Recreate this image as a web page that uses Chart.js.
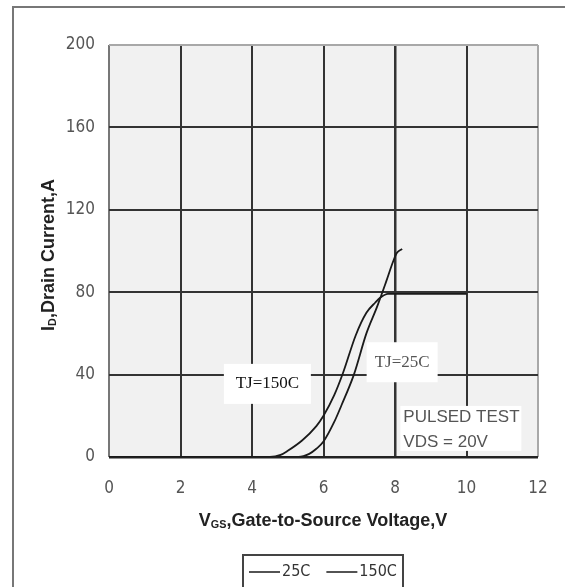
<!DOCTYPE html>
<html>
<head>
<meta charset="utf-8">
<script src="https://cdn.jsdelivr.net/npm/chart.js@4"></script>
<style>
  html, body { margin: 0; padding: 0; background: #fff; }
  #wrap { width: 565px; height: 587px; }
</style>
</head>
<body>
<div id="wrap"><canvas id="chartCanvas" width="565" height="587"></canvas></div>
<script>
// values
const xTicks = [0, 2, 4, 6, 8, 10, 12];
const yTicks = [0, 40, 80, 120, 160, 200];

const seriesLabels = ['25C', '150C'];

const vgs25 = [0, 5.3, 5.6, 5.8, 6.0, 6.3, 6.5, 6.85, 7.2, 7.5, 7.75, 7.95, 8.05, 8.2];
const id25  = [0, 0, 1.5, 4, 7.5, 17, 25, 40, 60, 73, 85, 95, 99, 101];

const vgs150 = [0, 4.5, 4.8, 5.0, 5.4, 5.8, 6.0, 6.3, 6.55, 6.9, 7.2, 7.45, 7.6, 7.8, 10];
const id150  = [0, 0, 1, 3, 8, 15, 20, 30, 41, 59, 70, 75, 77.5, 79.2, 79.2];

const serif = '"Liberation Serif", "Times New Roman", serif';
const notes = [
  { text: 'TJ=150C', x: 4.43, y: 35.5, w: 87, color: '#111' },
  { text: 'TJ=25C', x: 8.2, y: 46, w: 71, color: '#555' }
];
const testNote = ['PULSED TEST', 'VDS = 20V'];

const toPoints = (xs, ys) => xs.map((x, i) => ({ x: x, y: ys[i] }));

const narrow = '"DejaVu Sans Condensed", "Liberation Sans Narrow", "Arial Narrow", sans-serif';
const sans = '"Liberation Sans", Arial, sans-serif';

// draw text made of parts, some of them subscripted, centred at cx, cy
function drawRich(ctx, parts, cx, cy, size) {
  ctx.textBaseline = 'middle';
  ctx.textAlign = 'left';
  let total = 0;
  parts.forEach(p => {
    ctx.font = 'bold ' + (p.sub ? size * 0.6 : size) + 'px ' + sans;
    p.w = ctx.measureText(p.t).width;
    total += p.w;
  });
  let x = cx - total / 2;
  parts.forEach(p => {
    ctx.font = 'bold ' + (p.sub ? size * 0.6 : size) + 'px ' + sans;
    ctx.fillText(p.t, x, cy + (p.sub ? size * 0.25 : 0));
    x += p.w;
  });
}

const decor = {
  id: 'decor',
  beforeDraw(chart) {
    const { ctx, chartArea: a } = chart;
    ctx.save();
    ctx.fillStyle = '#f1f1f1';
    ctx.fillRect(a.left, a.top, a.right - a.left, a.bottom - a.top);
    ctx.restore();
  },
  beforeDatasetsDraw(chart) {
    const { ctx, scales: { x, y } } = chart;
    ctx.save();
    // white label boxes
    ctx.textBaseline = 'middle';
    ctx.textAlign = 'center';
    notes.forEach(n => {
      const px = x.getPixelForValue(n.x), py = y.getPixelForValue(n.y);
      ctx.fillStyle = '#fff';
      ctx.fillRect(px - n.w / 2, py - 20, n.w, 40);
      ctx.fillStyle = n.color;
      ctx.font = '17px ' + serif;
      ctx.fillText(n.text, px, py);
    });
    const bx = x.getPixelForValue(8.15), by = y.getPixelForValue(24.8);
    ctx.fillStyle = '#fff';
    ctx.fillRect(bx, by, 121, 45);
    ctx.fillStyle = '#555';
    ctx.textAlign = 'left';
    ctx.font = '17px ' + sans;
    ctx.fillText(testNote[0], bx + 3, by + 11);
    ctx.fillText(testNote[1], bx + 3, by + 36);
    ctx.restore();
  },
  afterDraw(chart) {
    const { ctx } = chart;
    ctx.save();
    ctx.fillStyle = '#222';
    drawRich(ctx, [{ t: 'V' }, { t: 'GS', sub: true }, { t: ',Gate-to-Source Voltage,V' }], 323, 521, 18);
    ctx.translate(49, 255);
    ctx.rotate(-Math.PI / 2);
    drawRich(ctx, [{ t: 'I' }, { t: 'D', sub: true }, { t: ',Drain Current,A' }], 0, 0, 18);
    ctx.restore();

    // outer frame
    ctx.save();
    ctx.strokeStyle = '#777';
    ctx.lineWidth = 2;
    ctx.strokeRect(13, 7, 600, 640);
    ctx.restore();

    // legend box
    ctx.save();
    ctx.strokeStyle = '#444';
    ctx.lineWidth = 2;
    ctx.strokeRect(243, 555, 160, 50);
    ctx.font = '16px ' + narrow;
    ctx.textBaseline = 'middle';
    ctx.textAlign = 'left';
    ctx.fillStyle = '#333';
    let lx = 249;
    chart.data.datasets.forEach(ds => {
      ctx.strokeStyle = ds.borderColor;
      ctx.lineWidth = 1.5;
      ctx.beginPath();
      ctx.moveTo(lx, 572);
      ctx.lineTo(lx + 31, 572);
      ctx.stroke();
      ctx.fillText(ds.label, lx + 33, 572);
      lx += 33 + ctx.measureText(ds.label).width + 16;
    });
    ctx.restore();
  }
};

const ctx = document.getElementById('chartCanvas');
new Chart(ctx, {
  type: 'line',
  data: {
    datasets: [{
      label: seriesLabels[0],
      data: toPoints(vgs25, id25),
      borderColor: '#1a1a1a',
      borderWidth: 1.8,
      pointRadius: 0,
      cubicInterpolationMode: 'monotone',
      fill: false
    }, {
      label: seriesLabels[1],
      data: toPoints(vgs150, id150),
      borderColor: '#1a1a1a',
      borderWidth: 1.8,
      pointRadius: 0,
      cubicInterpolationMode: 'monotone',
      fill: false
    }]
  },
  plugins: [decor],
  options: {
    responsive: false,
    animation: false,
    layout: { padding: { top: 45, right: 27, left: 0, bottom: 0 } },
    plugins: { legend: { display: false }, tooltip: { enabled: false } },
    scales: {
      x: {
        type: 'linear',
        min: 0, max: 12,
        afterBuildTicks: s => { s.ticks = xTicks.map(v => ({ value: v })); },
        afterFit: s => { s.height = 130; },
        border: { display: false },
        grid: {
          drawTicks: true,
          tickLength: 20,
          tickColor: 'rgba(0,0,0,0)',
          color: c => c.tick.value === 12 ? '#a8a8a8' : (c.tick.value === 0 ? '#777' : '#333'),
          lineWidth: c => c.tick.value === 8 ? 2.5 : 2
        },
        ticks: { padding: 1, color: '#555', font: { family: narrow, size: 17 } }
      },
      y: {
        min: 0, max: 200,
        afterBuildTicks: s => { s.ticks = yTicks.map(v => ({ value: v })); },
        afterFit: s => { s.width = 109; },
        border: { display: false },
        grid: {
          drawTicks: false,
          color: c => c.tick.value === 200 ? '#a8a8a8' : (c.tick.value === 0 ? '#222' : '#333'),
          lineWidth: c => c.tick.value === 0 ? 2.5 : 2
        },
        ticks: { padding: 14, color: '#555', font: { family: narrow, size: 17 } }
      }
    }
  }
});
</script>
</body>
</html>
